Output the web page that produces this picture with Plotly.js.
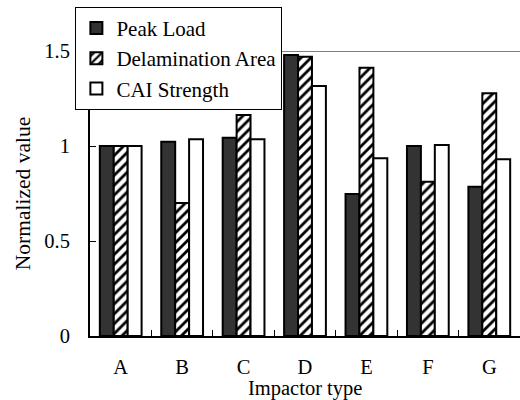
<!DOCTYPE html>
<html><head><meta charset="utf-8">
<script src="https://cdn.plot.ly/plotly-3.0.1.min.js"></script>
<style>html,body{margin:0;padding:0;background:#fff;}#c{width:520px;height:400px;}</style>
</head><body><div id="c"></div>
<script>
const categories = ['A','B','C','D','E','F','G'];
const peakLoad = [1.0, 1.023, 1.044, 1.479, 0.747, 1.0, 0.786];
const delamArea = [1.0, 0.70, 1.163, 1.47, 1.412, 0.812, 1.277];
const caiStrength = [1.0, 1.035, 1.035, 1.316, 0.935, 1.005, 0.93];
const seriesNames = ['Peak Load','Delamination Area','CAI Strength'];
const yTicks = [0, 0.5, 1, 1.5];
const yTickText = ['0','0.5','1','1.5'];
const xTitle = 'Impactor type';
const yTitle = 'Normalized value';

const font = {family:'Liberation Serif', size:21, color:'#000000'};
const tickFont = {family:'Liberation Serif', size:20.5, color:'#000000'};
const titleFont = {family:'Liberation Serif', size:21.5, color:'#000000'};
const xTitleFont = {family:'Liberation Serif', size:20.5, color:'#000000'};
const lineStyle = {color:'#000', width:2};
const traces = [
  {type:'bar', name:seriesNames[0], x:categories, y:peakLoad, legendgroup:'a',
   marker:{color:'#333333', line:lineStyle}},
  {type:'bar', name:seriesNames[1], x:categories, y:delamArea, legendgroup:'b',
   marker:{color:'#ffffff', line:lineStyle, pattern:{shape:'/', fgcolor:'#000', bgcolor:'#fff', size:7, solidity:0.4}}},
  {type:'bar', name:seriesNames[2], x:categories, y:caiStrength, legendgroup:'c',
   marker:{color:'#ffffff', line:lineStyle}}
];
const layout = {
  width:520, height:400,
  margin:{l:90, r:0, t:51, b:64},
  paper_bgcolor:'#fff', plot_bgcolor:'#fff',
  font:font,
  barmode:'group', bargap:0.32, bargroupgap:0,
  showlegend:true,
  legend:{x:-0.034, y:1.155, xanchor:'left', yanchor:'top', bgcolor:'#fff',
    bordercolor:'#000', borderwidth:1, font:font, tracegroupgap:15, traceorder:'normal',
    itemwidth:30},
  xaxis:{type:'category', showline:true, linecolor:'#000', linewidth:2,
    ticks:'inside', tickson:'boundaries', ticklen:6, tickcolor:'#000', tickwidth:1,
    showgrid:false, tickfont:tickFont, ticklabelstandoff:11, automargin:false},
  yaxis:{range:[0,1.5], showline:true, linecolor:'#000', linewidth:2,
    ticks:'inside', ticklen:6, tickcolor:'#000', tickwidth:1,
    tickvals:yTicks, ticktext:yTickText, showgrid:false, zeroline:false, tickfont:tickFont,
    ticklabelstandoff:14, automargin:false,
    title:{text:yTitle, font:titleFont, standoff:8}},
  annotations:[{text:xTitle, xref:'paper', yref:'paper', x:0.5, y:-0.184, xanchor:'center', yanchor:'middle',
    showarrow:false, font:xTitleFont}],
  shapes:[{type:'line', xref:'paper', yref:'y', x0:0, x1:1, y0:1.5, y1:1.5, line:{color:'#000', width:1}}]
};
Plotly.newPlot('c', traces, layout, {staticPlot:true});
</script></body></html>
